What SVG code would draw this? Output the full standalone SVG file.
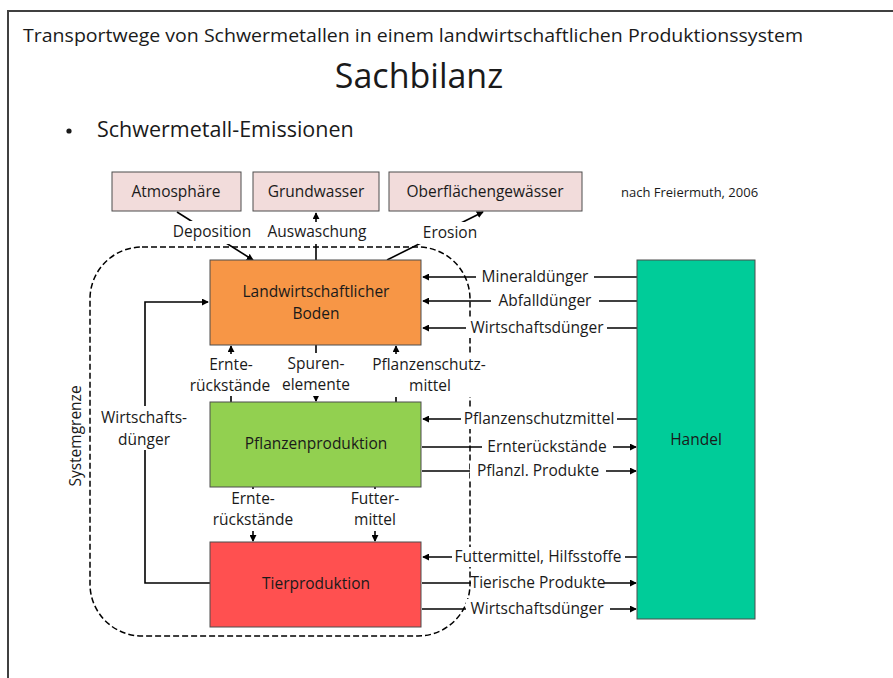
<svg xmlns="http://www.w3.org/2000/svg" width="893" height="678" viewBox="0 0 893 678">
<style>
text{font-family:"Open Sans","Liberation Sans",sans-serif;fill:#1a1a1a}
.t14{font-size:15.5px}
.c{text-anchor:middle}
.box{stroke:#4d4d4d;stroke-width:1}
.pink{fill:#f2dcdb}
.ln{stroke:#000;stroke-width:1.6;fill:none}
.bg{fill:#fff}
</style>
<defs>
<marker id="ah" viewBox="0 0 8 8" refX="7" refY="4" markerWidth="7" markerHeight="7" markerUnits="userSpaceOnUse" orient="auto">
<path d="M0,0 L8,4 L0,8 z" fill="#000"/>
</marker>
</defs>
<rect width="893" height="678" fill="#fff"/>
<path d="M8,678 V11 H893" fill="none" stroke="#404040" stroke-width="2"/>
<text x="23" y="42" font-size="17.5" textLength="780" lengthAdjust="spacingAndGlyphs">Transportwege von Schwermetallen in einem landwirtschaftlichen Produktionssystem</text>
<text x="419" y="88" font-size="34" class="c">Sachbilanz</text>
<circle cx="69" cy="131" r="2.6" fill="#1a1a1a"/>
<text x="97" y="137" font-size="21.5">Schwermetall-Emissionen</text>
<text x="621" y="197" font-size="13">nach Freiermuth,  2006</text>

<g id="systemgrenze">
<rect x="90" y="247" width="380" height="389" rx="52" ry="52" fill="none" stroke="#000" stroke-width="1.5" stroke-dasharray="6,3"/>
<text class="t14 c" transform="translate(81,436) rotate(-90)">Systemgrenze</text>
</g>

<g id="connectors">
<line class="ln" x1="177" y1="212" x2="253" y2="260" marker-end="url(#ah)"/>
<line class="ln" x1="316" y1="260" x2="316" y2="213" marker-end="url(#ah)"/>
<line class="ln" x1="387" y1="260" x2="483" y2="212" marker-end="url(#ah)"/>
<line class="ln" x1="637" y1="277" x2="423" y2="277" marker-end="url(#ah)"/>
<line class="ln" x1="637" y1="301" x2="423" y2="301" marker-end="url(#ah)"/>
<line class="ln" x1="637" y1="328" x2="423" y2="328" marker-end="url(#ah)"/>
<line class="ln" x1="637" y1="419" x2="423" y2="419" marker-end="url(#ah)"/>
<line class="ln" x1="422" y1="447" x2="636" y2="447" marker-end="url(#ah)"/>
<line class="ln" x1="422" y1="471" x2="636" y2="471" marker-end="url(#ah)"/>
<line class="ln" x1="637" y1="557" x2="423" y2="557" marker-end="url(#ah)"/>
<line class="ln" x1="422" y1="583" x2="636" y2="583" marker-end="url(#ah)"/>
<line class="ln" x1="422" y1="609" x2="636" y2="609" marker-end="url(#ah)"/>
<line class="ln" x1="231" y1="402" x2="231" y2="346" marker-end="url(#ah)"/>
<line class="ln" x1="316" y1="345" x2="316" y2="401" marker-end="url(#ah)"/>
<line class="ln" x1="396" y1="402" x2="396" y2="346" marker-end="url(#ah)"/>
<line class="ln" x1="253" y1="487" x2="253" y2="541" marker-end="url(#ah)"/>
<line class="ln" x1="375" y1="487" x2="375" y2="541" marker-end="url(#ah)"/>
<polyline class="ln" points="210,583 145,583 145,302 208,302" marker-end="url(#ah)"/>

<rect class="bg" x="168" y="221" width="88" height="23"/>
<text class="t14 c" x="212" y="237">Deposition</text>
<rect class="bg" x="263" y="222" width="109" height="22"/>
<text class="t14 c" x="317" y="237">Auswaschung</text>
<rect class="bg" x="418" y="222" width="64" height="22"/>
<text class="t14 c" x="450" y="238">Erosion</text>

<rect class="bg" x="476" y="268" width="118" height="19"/>
<text class="t14 c" x="535" y="282">Mineraldünger</text>
<rect class="bg" x="491" y="292" width="108" height="19"/>
<text class="t14 c" x="545" y="306">Abfalldünger</text>
<rect class="bg" x="466" y="318" width="141" height="20"/>
<text class="t14 c" x="537" y="333">Wirtschaftsdünger</text>
<rect class="bg" x="461" y="409" width="156" height="20"/>
<text class="t14 c" x="539" y="424">Pflanzenschutzmittel</text>
<rect class="bg" x="482" y="437" width="131" height="20"/>
<text class="t14 c" x="547" y="452">Ernterückstände</text>
<rect class="bg" x="470" y="461" width="136" height="20"/>
<text class="t14 c" x="538" y="476">Pflanzl. Produkte</text>
<rect class="bg" x="452" y="547" width="173" height="20"/>
<text class="t14 c" x="538" y="562">Futtermittel, Hilfsstoffe</text>
<rect class="bg" x="471" y="573" width="133" height="20"/>
<text class="t14 c" x="538" y="588">Tierische Produkte</text>
<rect class="bg" x="466" y="599" width="144" height="20"/>
<text class="t14 c" x="537" y="614">Wirtschaftsdünger</text>

<rect class="bg" x="190" y="354" width="82" height="42"/>
<text class="t14 c" x="231" y="370">Ernte-</text>
<text class="t14 c" x="230" y="391">rückstände</text>
<rect class="bg" x="285" y="353" width="64" height="43"/>
<text class="t14 c" x="316" y="369">Spuren-</text>
<text class="t14 c" x="316" y="390">elemente</text>
<rect class="bg" x="370" y="354" width="120" height="43"/>
<text class="t14 c" x="429" y="370">Pflanzenschutz-</text>
<text class="t14 c" x="430" y="391">mittel</text>
<rect class="bg" x="210" y="489" width="87" height="42"/>
<text class="t14 c" x="253" y="504">Ernte-</text>
<text class="t14 c" x="253" y="525">rückstände</text>
<rect class="bg" x="343" y="489" width="64" height="42"/>
<text class="t14 c" x="375" y="504">Futter-</text>
<text class="t14 c" x="375" y="525">mittel</text>
<rect class="bg" x="96" y="406" width="96" height="44"/>
<text class="t14 c" x="144" y="423">Wirtschafts-</text>
<text class="t14 c" x="144" y="445">dünger</text>
</g>

<g id="atmosphaere">
<rect class="box pink" x="112" y="172" width="129" height="39"/>
<text class="t14 c" x="176" y="197">Atmosphäre</text>
</g>
<g id="grundwasser">
<rect class="box pink" x="253" y="172" width="126" height="39"/>
<text class="t14 c" x="316" y="197">Grundwasser</text>
</g>
<g id="oberflaechengewaesser">
<rect class="box pink" x="389" y="172" width="193" height="39"/>
<text class="t14 c" x="485" y="197">Oberflächengewässer</text>
</g>
<g id="boden">
<rect class="box" x="210" y="260" width="211" height="85" fill="#f79646"/>
<text class="t14 c" x="316" y="297">Landwirtschaftlicher</text>
<text class="t14 c" x="316" y="319">Boden</text>
</g>
<g id="pflanzenproduktion">
<rect class="box" x="210" y="402" width="211" height="85" fill="#92d050"/>
<text class="t14 c" x="316" y="449">Pflanzenproduktion</text>
</g>
<g id="tierproduktion">
<rect class="box" x="210" y="542" width="211" height="85" fill="#ff5050"/>
<text class="t14 c" x="316" y="589">Tierproduktion</text>
</g>
<g id="handel">
<rect class="box" x="637" y="260" width="118" height="359" fill="#00cc99"/>
<text class="t14 c" x="696" y="445">Handel</text>
</g>
</svg>
